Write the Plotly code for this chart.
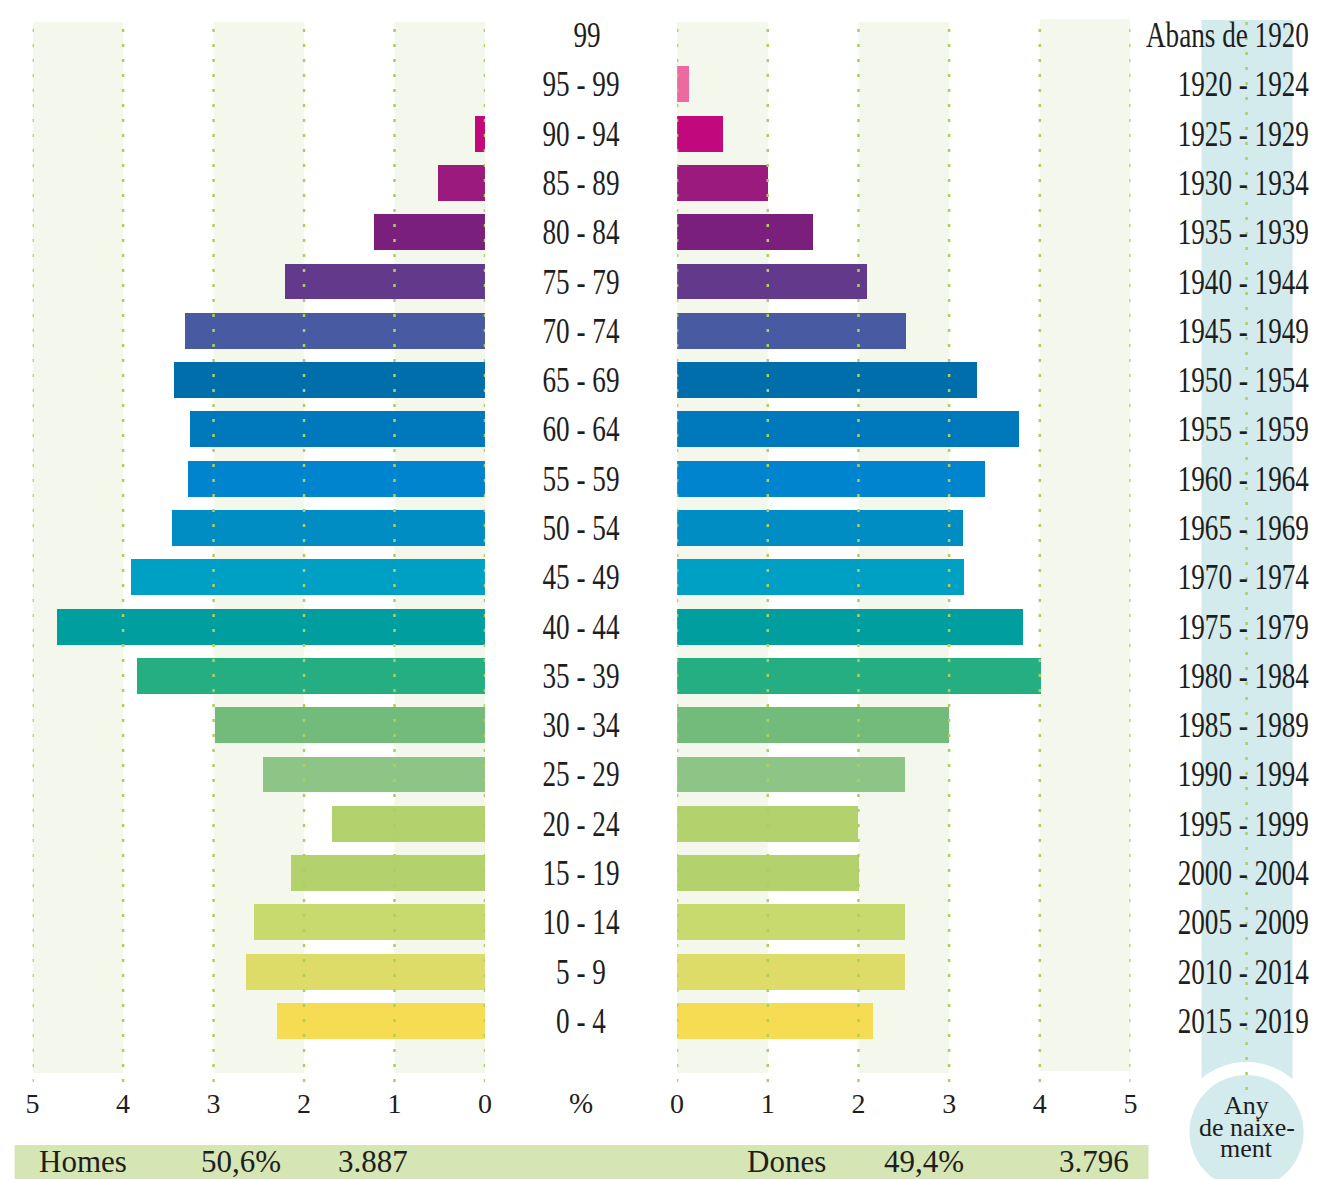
import json
import plotly.graph_objects as go

# ---------------- data ----------------
ages = ["99", "95 - 99", "90 - 94", "85 - 89", "80 - 84", "75 - 79", "70 - 74",
        "65 - 69", "60 - 64", "55 - 59", "50 - 54", "45 - 49", "40 - 44",
        "35 - 39", "30 - 34", "25 - 29", "20 - 24", "15 - 19", "10 - 14",
        "5 - 9", "0 - 4"]
births = ["Abans de 1920", "1920 - 1924", "1925 - 1929", "1930 - 1934",
          "1935 - 1939", "1940 - 1944", "1945 - 1949", "1950 - 1954",
          "1955 - 1959", "1960 - 1964", "1965 - 1969", "1970 - 1974",
          "1975 - 1979", "1980 - 1984", "1985 - 1989", "1990 - 1994",
          "1995 - 1999", "2000 - 2004", "2005 - 2009", "2010 - 2014",
          "2015 - 2019"]
bar_ages = ages[1:]
men = [0.0, 0.11, 0.52, 1.23, 2.22, 3.32, 3.44, 3.27, 3.29, 3.46, 3.92,
       4.73, 3.85, 2.99, 2.46, 1.69, 2.15, 2.56, 2.65, 2.30]
women = [0.13, 0.51, 1.00, 1.50, 2.10, 2.53, 3.31, 3.77, 3.40, 3.15, 3.16,
         3.82, 4.01, 3.00, 2.52, 2.00, 2.01, 2.52, 2.52, 2.16]
colors = ["#ec6aa0", "#c1097d", "#9b1a7d", "#7b1f7c", "#63398b", "#485aa2",
          "#006eab", "#0079bc", "#0084cd", "#008dc4", "#00a0c5", "#009e9f",
          "#25ae82", "#72bb7a", "#8dc586", "#b3d16d", "#b3d16d", "#c8d96d",
          "#dedc69", "#f5dc52"]
ticks = [0, 1, 2, 3, 4, 5]
shaded_men = [(4, 5), (2, 3), (0, 1)]
shaded_women = [(0, 1), (2, 3), (4, 5)]
men_summary = ["Homes", "50,6%", "3.887"]
women_summary = ["Dones", "49,4%", "3.796"]
circle_lines = ["Any", "de naixe-", "ment"]

# ---------------- layout helpers ----------------
W, H = 1317, 1179
PLOT_H = 1073
FONT = "Liberation Serif"
TXT = "#1e1e1e"
GRID = "#aecf5e"
BAND = "#f3f7ec"
BLUE = "#d3ebec"
LABEL_SIZE = 36
LABEL_SQUEEZE = 0.755


def px(x):
    # target pixel -> paper fraction (small correction for the page's horizontal fit)
    return ((x - 7.4) / 0.9886) / W


def py(p):
    return (PLOT_H - p) / PLOT_H


fig = go.Figure()

fig.add_trace(go.Bar(x=men, y=bar_ages, orientation="h", marker=dict(color=colors, line=dict(width=0)),
                     width=0.73, xaxis="x", yaxis="y", showlegend=False, hoverinfo="skip"))
fig.add_trace(go.Bar(x=women, y=bar_ages, orientation="h", marker=dict(color=colors, line=dict(width=0)),
                     width=0.73, xaxis="x2", yaxis="y", showlegend=False, hoverinfo="skip"))

shapes = []
# shaded bands
for a, b in shaded_men:
    shapes.append(dict(type="rect", xref="x", yref="paper", x0=a, x1=b, y0=py(1073), y1=py(22),
                       fillcolor=BAND, line=dict(width=0), layer="below"))
for a, b in shaded_women:
    shapes.append(dict(type="rect", xref="x2", yref="paper", x0=a, x1=b, y0=py(1071 if a == 4 else 1073),
                       y1=py(19 if a == 4 else 22),
                       fillcolor=BAND, line=dict(width=0), layer="below"))
# dotted grid lines (above bars)
for t in ticks:
    for ax in ("x", "x2"):
        shapes.append(dict(type="line", xref=ax, yref="paper", x0=t, x1=t, y0=py(1082), y1=py(21),
                           line=dict(color=GRID, width=2.5, dash="3px,12px"), layer="above"))
# birth year column
shapes.append(dict(type="rect", xref="paper", yref="paper", x0=px(1201), x1=px(1292), y0=py(1110), y1=py(20),
                   fillcolor=BLUE, line=dict(width=0), layer="below"))
shapes.append(dict(type="circle", xref="paper", yref="paper", x0=px(1246 - 70), x1=px(1246 + 70),
                   y0=py(1132 + 70), y1=py(1132 - 70), fillcolor="white", line=dict(width=0), layer="below"))
shapes.append(dict(type="circle", xref="paper", yref="paper", x0=px(1246 - 57), x1=px(1246 + 57),
                   y0=py(1132 + 57), y1=py(1132 - 57), fillcolor=BLUE, line=dict(width=0), layer="below"))
shapes.append(dict(type="line", xref="paper", yref="paper", x0=px(1246), x1=px(1246), y0=py(1090), y1=py(21),
                   line=dict(color=GRID, width=2.5, dash="3px,12px"), layer="below"))
# summary bar
shapes.append(dict(type="rect", xref="paper", yref="paper", x0=px(15), x1=px(1148), y0=py(1180), y1=py(1145),
                   fillcolor="#d5e5b3", line=dict(width=0), layer="below"))

annotations = []
squeeze = []  # (annotation index, anchor, factor)
for i, lab in enumerate(ages):
    squeeze.append([len(annotations), "center", LABEL_SQUEEZE])
    annotations.append(dict(x=px(581), y=i, xref="paper", yref="y", text=lab, showarrow=False,
                            xanchor="center", yanchor="middle", xshift=6 if i == 0 else 0,
                            font=dict(family=FONT, size=LABEL_SIZE, color=TXT)))
for i, lab in enumerate(births):
    squeeze.append([len(annotations), "right", LABEL_SQUEEZE])
    annotations.append(dict(x=px(1310), y=i, xref="paper", yref="y", text=lab, showarrow=False,
                            xanchor="right", yanchor="middle",
                            font=dict(family=FONT, size=LABEL_SIZE, color=TXT)))
annotations.append(dict(x=px(581), y=py(1103), xref="paper", yref="paper", text="%", showarrow=False,
                        xanchor="center", yanchor="middle", font=dict(family=FONT, size=29, color=TXT)))
for xx, txt in zip([37, 199, 336], men_summary):
    annotations.append(dict(x=px(xx), y=py(1161), xref="paper", yref="paper", text=txt, showarrow=False,
                            xanchor="left", yanchor="middle", font=dict(family=FONT, size=31, color=TXT)))
for xx, txt, anc in zip([745, 882, 1131], women_summary, ["left", "left", "right"]):
    annotations.append(dict(x=px(xx), y=py(1161), xref="paper", yref="paper", text=txt, showarrow=False,
                            xanchor=anc, yanchor="middle", font=dict(family=FONT, size=31, color=TXT)))
for yy, txt in zip([1105, 1127, 1148], circle_lines):
    annotations.append(dict(x=px(1246), y=py(yy), xref="paper", yref="paper", text=txt, showarrow=False,
                            xanchor="center", yanchor="middle", font=dict(family=FONT, size=26, color=TXT)))

axis_common = dict(tickmode="array", tickvals=ticks, ticktext=[str(t) for t in ticks], showgrid=False,
                   zeroline=False, showline=False, ticks="", tickfont=dict(family=FONT, size=28, color=TXT),
                   ticklabelstandoff=11, fixedrange=True)

fig.update_layout(
    width=W, height=H,
    margin=dict(l=0, r=0, t=0, b=H - PLOT_H),
    paper_bgcolor="white", plot_bgcolor="rgba(0,0,0,0)",
    bargap=0,
    xaxis=dict(domain=[px(33), px(485)], range=[5, 0], anchor="y", **axis_common),
    xaxis2=dict(domain=[px(677), px(1130)], range=[0, 5], anchor="y", **axis_common),
    yaxis=dict(type="category", categoryorder="array", categoryarray=ages, range=[21.055, -0.71],
               showticklabels=False, showgrid=False, zeroline=False, showline=False, ticks="",
               fixedrange=True),
    shapes=shapes,
    annotations=annotations,
)

js = """
document.body.style.margin='0';
document.body.style.overflow='hidden';
document.documentElement.style.overflow='hidden';
(function(){
  var gd = document.getElementById('{plot_id}');
  var list = SQUEEZE;
  list.forEach(function(item){
    var g = gd.querySelector('g.annotation[data-index="' + item[0] + '"]');
    if(!g) return;
    var t = g.querySelector('text');
    if(!t) return;
    var bb = t.getBBox();
    var cx = item[1] === 'right' ? bb.x + bb.width : (item[1] === 'left' ? bb.x : bb.x + bb.width / 2);
    var old = t.getAttribute('transform') || '';
    t.setAttribute('transform', (old ? old + ' ' : '') + 'translate(' + cx + ',0) scale(' + item[2] + ',1) translate(' + (-cx) + ',0)');
  });
})();
""".replace("SQUEEZE", json.dumps(squeeze))

fig.write_html("out.html", config={"displayModeBar": False}, post_script=js)
